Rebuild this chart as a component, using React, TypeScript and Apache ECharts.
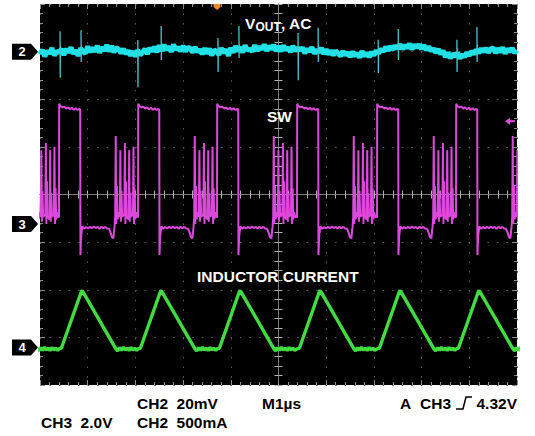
import React, { useEffect, useRef } from "react";
import * as echarts from "echarts";

// ---- Axes (oscilloscope graticule: 10 x 8 divisions) ----
const timeMin = 0; // µs
const timeMax = 10; // µs (M 1 µs/div)
const divMin = 0;
const divMax = 8;
// Channel scales, chosen so each ground marker sits where the capture shows it
const ch2Range = [-140, 20]; // mV, 20 mV/div (VOUT, AC)
const ch3Range = [-6.76, 9.24]; // V, 2.0 V/div (SW)
const ch4Range = [-394, 3606]; // mA, 500 mA/div (inductor current)
const triggerLevel = 4.32; // V on CH3
const triggerTime = 3.711; // µs

// ---- SW node: rising-edge times (µs) read from the capture ----
const swRiseTimes = [-1.259, 0.398, 2.055, 3.711, 5.388, 7.065, 8.721];

// One switching cycle of SW, [offset from rising edge µs, volts]
const swCycle: [number, number][] = [
  [0.0, 0.3], [0.004, 5.05], [0.03, 4.95], [0.07, 4.9], [0.11, 4.93], [0.15, 4.85],
  [0.19, 4.9], [0.23, 4.82], [0.27, 4.88], [0.31, 4.8], [0.35, 4.86], [0.39, 4.79],
  [0.43, 4.83], [0.445, 4.8], [0.45, -1.3], [0.465, -0.5], [0.49, -0.1], [0.53, -0.2],
  [0.57, -0.12], [0.61, -0.19], [0.65, -0.11], [0.69, -0.18], [0.73, -0.1], [0.77, -0.17],
  [0.81, -0.12], [0.85, -0.2], [0.89, -0.11], [0.93, -0.18], [0.97, -0.12], [1.01, -0.19],
  [1.05, -0.2], [1.08, -0.35], [1.11, -0.55], [1.14, -0.6], [1.165, -0.1],
  [1.178, 0.3], [1.19, 3.7], [1.2, 0.0], [1.215, 1.6], [1.228, 0.2], [1.26, 0.5],
  [1.275, 0.3], [1.287, 3.1], [1.298, 0.1], [1.31, 1.4], [1.325, 0.3],
  [1.37, 0.4], [1.382, 3.4], [1.393, 0.0], [1.405, 1.8], [1.418, 0.3],
  [1.46, 0.2], [1.472, 3.1], [1.483, 0.1], [1.495, 1.3], [1.51, 0.3],
  [1.55, 0.4], [1.562, 3.25], [1.573, 0.0], [1.585, 1.5], [1.6, 0.2],
  [1.62, 0.5], [1.64, 0.3],
];

// One cycle of inductor current, [offset from SW rising edge µs, mA]
const ilCycle: [number, number][] = [
  [0.0, -15], [0.05, -8], [0.47, 588], [0.485, 596], [0.5, 586], [1.19, -12],
  [1.23, -35], [1.27, -2], [1.31, -30], [1.35, 3], [1.39, -28], [1.43, -6],
  [1.47, -32], [1.51, 0], [1.55, -25], [1.59, -8], [1.63, -30],
];

// VOUT (AC) samples every 0.05 µs, mV
const voutStep = 0.05;
const voutValues = [
  -1.2, 0.8, -2.0, 0.3, -0.9, 1.5, -1.6, 0.2, -0.4, 1.1,
  -1.5, 1.2, -0.3, 1.8, -1.0, 0.6, -1.8, 1.4, 0.1, -0.8,
  2.2, -0.2, 1.6, 0.0, 2.5, -0.5, 1.9, 0.4, 2.8, 0.1,
  2.4, -0.3, 1.7, 0.9, -0.6, 1.2, -1.0, 0.5, -1.7, 0.2,
  -2.1, 0.6, -1.4, -0.3, 1.2, -1.0, 1.5, 0.1, 2.0, -0.2,
  2.6, 0.3, 2.9, 0.7, 2.2, -0.1, 3.0, 0.8, 1.9, 0.2,
  2.5, 0.0, 1.8, 1.3, -0.4, 1.9, -0.2, 1.0, -1.1, 1.4,
  -0.9, 1.3, -1.6, 0.7, 0.2, -1.4, 1.5, -0.5, 0.9, -1.8,
  1.6, -0.4, 2.3, 0.2, 1.9, -0.3, 2.6, 0.5, 1.2, 0.0,
  2.7, 0.4, 2.1, 0.9, 3.0, 0.3, 2.4, 1.0, 2.8, 0.2,
  2.3, 0.1, 2.6, 0.6, 1.8, -0.2, 2.4, 0.3, 1.6, 0.5,
  1.7, -0.7, 1.2, 0.0, 1.9, -0.9, 0.8, -0.3, 1.5, -1.0,
  1.0, -1.2, 0.6, -1.6, 0.4, -0.8, -1.9, 0.2, -1.5, -0.3,
  -2.2, 0.0, -1.8, -0.6, -2.5, 0.2, -1.9, -0.4, -2.3, -0.1,
  -1.6, 0.5, -0.8, 1.2, 0.0, 2.0, 0.4, 2.3, 0.9, 2.6,
  1.2, 3.1, 1.0, 2.7, 1.5, 3.3, 0.9, 2.9, 1.6, 3.0,
  1.1, 2.8, 0.6, 2.2, 0.2, 1.4, -0.5, 1.0, -1.0, 0.4,
  -2.3, -0.4, -2.8, -0.9, -2.0, -0.5, -2.9, -1.2, -2.2, -0.3,
  -1.7, 0.2, -1.1, 0.8, -0.6, 1.3, -0.2, 1.5, -0.4, 1.1,
  1.6, -0.6, 1.4, -0.2, 1.8, -0.8, 1.2, 0.0, 1.5, -0.5,
  0.6,
];

// VOUT switching spikes: [time µs, peak mV, trough mV]
const voutSpikes: [number, number, number][] = [
  [0.42, 8.6, -11], [0.86, 9.0, -4.4],
  [2.05, 4.9, -15], [2.54, 10.8, -3.5],
  [3.73, 5.7, -8.6], [4.17, 10.8, -2.7],
  [5.41, 7.8, -12], [5.83, 10.0, -4.4],
  [7.09, 5.0, -9], [7.51, 9.5, -3.5],
  [8.74, 5.0, -8.6], [9.16, 10.3, -4.4],
];

const FONT = "'Liberation Sans', Arial, Helvetica, sans-serif";

function buildCycles(starts: number[], cycle: [number, number][]) {
  const out: (number | string)[][] = [];
  starts.forEach((s) => cycle.forEach(([dt, v]) => out.push([+(s + dt).toFixed(4), v])));
  return out;
}

export default function App() {
  const ref = useRef<HTMLDivElement>(null);

  useEffect(() => {
    if (!ref.current) return;
    const chart = echarts.init(ref.current, undefined, { renderer: "svg" });

    const voutData = voutValues.map((v, i) => [+(i * voutStep).toFixed(3), v]);
    const spikeData: (number | string)[][] = [];
    voutSpikes.forEach(([t, up, down]) => {
      spikeData.push([t, up]);
      spikeData.push([t + 0.004, down]);
      spikeData.push([t + 0.008, up * 0.3]);
      spikeData.push([t + 0.009, "-"]);
    });
    const swData = buildCycles(swRiseTimes, swCycle);
    const ilData = buildCycles(swRiseTimes, ilCycle);

    const tickColor = "#8a8a8a";
    const edgeX = (pos: "bottom" | "top") => ({
      type: "value",
      position: pos,
      min: timeMin,
      max: timeMax,
      interval: 1,
      axisLine: { show: false, onZero: false },
      axisTick: { show: true, inside: true, length: 5, lineStyle: { color: tickColor } },
      minorTick: { show: true, splitNumber: 5, length: 3, lineStyle: { color: tickColor } },
      axisLabel: { show: false },
      splitLine: { show: pos === "bottom", lineStyle: { color: "#5a5a5a", width: 1, type: [1.5, 8.04] } },
      minorSplitLine: { show: false },
    });
    const centerX = (inside: boolean) => ({
      type: "value",
      position: "bottom",
      offset: -190.5,
      min: timeMin,
      max: timeMax,
      interval: 1,
      axisLine: { show: true, onZero: false, lineStyle: { color: "#7c7c7c", width: 1 } },
      axisTick: { show: true, inside, length: 4, lineStyle: { color: "#b0b0b0" } },
      minorTick: { show: true, splitNumber: 5, length: 4, lineStyle: { color: "#b0b0b0" } },
      axisLabel: { show: false },
      splitLine: { show: false },
    });
    const edgeY = (pos: "left" | "right") => ({
      type: "value",
      position: pos,
      min: divMin,
      max: divMax,
      interval: 1,
      axisLine: { show: false, onZero: false },
      axisTick: { show: true, inside: true, length: 5, lineStyle: { color: tickColor } },
      minorTick: { show: true, splitNumber: 5, length: 3, lineStyle: { color: tickColor } },
      axisLabel: { show: false },
      splitLine: { show: pos === "left", lineStyle: { color: "#5a5a5a", width: 1, type: [1.5, 8.02] } },
    });
    const centerY = (inside: boolean) => ({
      type: "value",
      position: "left",
      offset: -238.5,
      min: divMin,
      max: divMax,
      interval: 1,
      axisLine: { show: true, onZero: false, lineStyle: { color: "#7c7c7c", width: 1 } },
      axisTick: { show: true, inside, length: 4, lineStyle: { color: "#b0b0b0" } },
      minorTick: { show: true, splitNumber: 5, length: 4, lineStyle: { color: "#b0b0b0" } },
      axisLabel: { show: false },
      splitLine: { show: false },
    });
    const hiddenY = (r: number[]) => ({ type: "value", show: false, min: r[0], max: r[1], axisLine: { onZero: false } });

    chart.setOption({
      animation: false,
      backgroundColor: "#ffffff",
      grid: { left: 40, top: 4, width: 477, height: 381, show: true, backgroundColor: "#000000", borderWidth: 0 },
      xAxis: [edgeX("bottom"), edgeX("top"), centerX(true), centerX(false)],
      yAxis: [edgeY("left"), edgeY("right"), centerY(true), centerY(false), hiddenY(ch2Range), hiddenY(ch3Range), hiddenY(ch4Range)],
      series: [
        {
          name: "VOUT", type: "line", xAxisIndex: 0, yAxisIndex: 4, data: voutData,
          symbol: "none", silent: true, lineStyle: { color: "#20e2e6", width: 5 }, z: 3,
        },
        {
          name: "VOUT spikes", type: "line", xAxisIndex: 0, yAxisIndex: 4, data: spikeData,
          symbol: "none", silent: true, connectNulls: false, lineStyle: { color: "#46c8d0", width: 1.3 }, z: 3,
        },
        {
          name: "SW", type: "line", xAxisIndex: 0, yAxisIndex: 5, data: swData,
          symbol: "none", silent: true, lineStyle: { color: "#dc48dc", width: 2 }, z: 3,
        },
        {
          name: "Inductor current", type: "line", xAxisIndex: 0, yAxisIndex: 6, data: ilData,
          symbol: "none", silent: true, lineStyle: { color: "#40dc40", width: 3.4 }, z: 3,
        },
      ],
    });

    const y2 = chart.convertToPixel({ yAxisIndex: 4 }, 0) as number;
    const y3 = chart.convertToPixel({ yAxisIndex: 5 }, 0) as number;
    const y4 = chart.convertToPixel({ yAxisIndex: 6 }, 0) as number;
    const yTrig = chart.convertToPixel({ yAxisIndex: 5 }, triggerLevel) as number;
    const xTrig = chart.convertToPixel({ xAxisIndex: 0 }, triggerTime) as number;

    const marker = (label: string, y: number) => ({
      type: "group",
      children: [
        {
          type: "polygon",
          shape: { points: [[12, y - 8], [31, y - 8], [38, y], [31, y + 8], [12, y + 8]] },
          style: { fill: "#000" },
        },
        {
          type: "text",
          style: {
            text: label, x: 22, y, fill: "#fff", font: `bold 13px ${FONT}`,
            align: "center", verticalAlign: "middle", textAlign: "center", textVerticalAlign: "middle",
          },
        },
      ],
    });
    const txt = (text: string, x: number, y: number, size: number, fill: string, align = "left") => ({
      type: "text",
      z: 10,
      style: {
        text, x, y, fill, font: `bold ${size}px ${FONT}`,
        align, verticalAlign: "middle", textAlign: align, textVerticalAlign: "middle",
      },
    });

    chart.setOption({
      graphic: [
        marker("2", y2),
        marker("3", y3),
        marker("4", y4),
        // trigger position (top) and trigger level (right)
        {
          type: "polygon", z: 10,
          shape: { points: [[xTrig - 3.5, 4], [xTrig + 3.5, 4], [xTrig + 3.5, 7], [xTrig, 10], [xTrig - 3.5, 7]] },
          style: { fill: "#f08a24" },
        },
        {
          type: "polygon", z: 10,
          shape: { points: [[505, yTrig], [510, yTrig - 3.5], [510, yTrig + 3.5]] },
          style: { fill: "#dc48dc" },
        },
        { type: "line", z: 10, shape: { x1: 509, y1: yTrig, x2: 515, y2: yTrig }, style: { stroke: "#dc48dc", lineWidth: 2 } },
        // in-plot labels
        txt("V", 245, 23, 15.5, "#fff"),
        txt("OUT", 255.5, 27, 12, "#fff"),
        txt(", AC", 281, 23, 15.5, "#fff"),
        txt("SW", 267, 116, 15.5, "#fff"),
        txt("INDUCTOR CURRENT", 197, 276, 15.5, "#fff"),
        // readout
        txt("CH2", 137, 403, 15.5, "#000"),
        txt("20mV", 176.6, 403, 15.5, "#000"),
        txt("M1µs", 262, 403, 15.5, "#000"),
        txt("A", 400, 403, 15.5, "#000"),
        txt("CH3", 420, 403, 15.5, "#000"),
        {
          type: "polyline", z: 10,
          shape: { points: [[456, 409], [463, 409], [466, 397], [472, 397]] },
          style: { stroke: "#000", lineWidth: 1.5, fill: null },
        },
        txt("4.32V", 517, 403, 15.5, "#000", "right"),
        txt("CH3", 41, 422, 15.5, "#000"),
        txt("2.0V", 80.6, 422, 15.5, "#000"),
        txt("CH2", 137, 422, 15.5, "#000"),
        txt("500mA", 176.6, 422, 15.5, "#000"),
      ],
    });

    return () => chart.dispose();
  }, []);

  return (
    <div
      ref={ref}
      style={{ position: "fixed", left: 0, top: 0, width: 535, height: 436, background: "#fff" }}
    />
  );
}
